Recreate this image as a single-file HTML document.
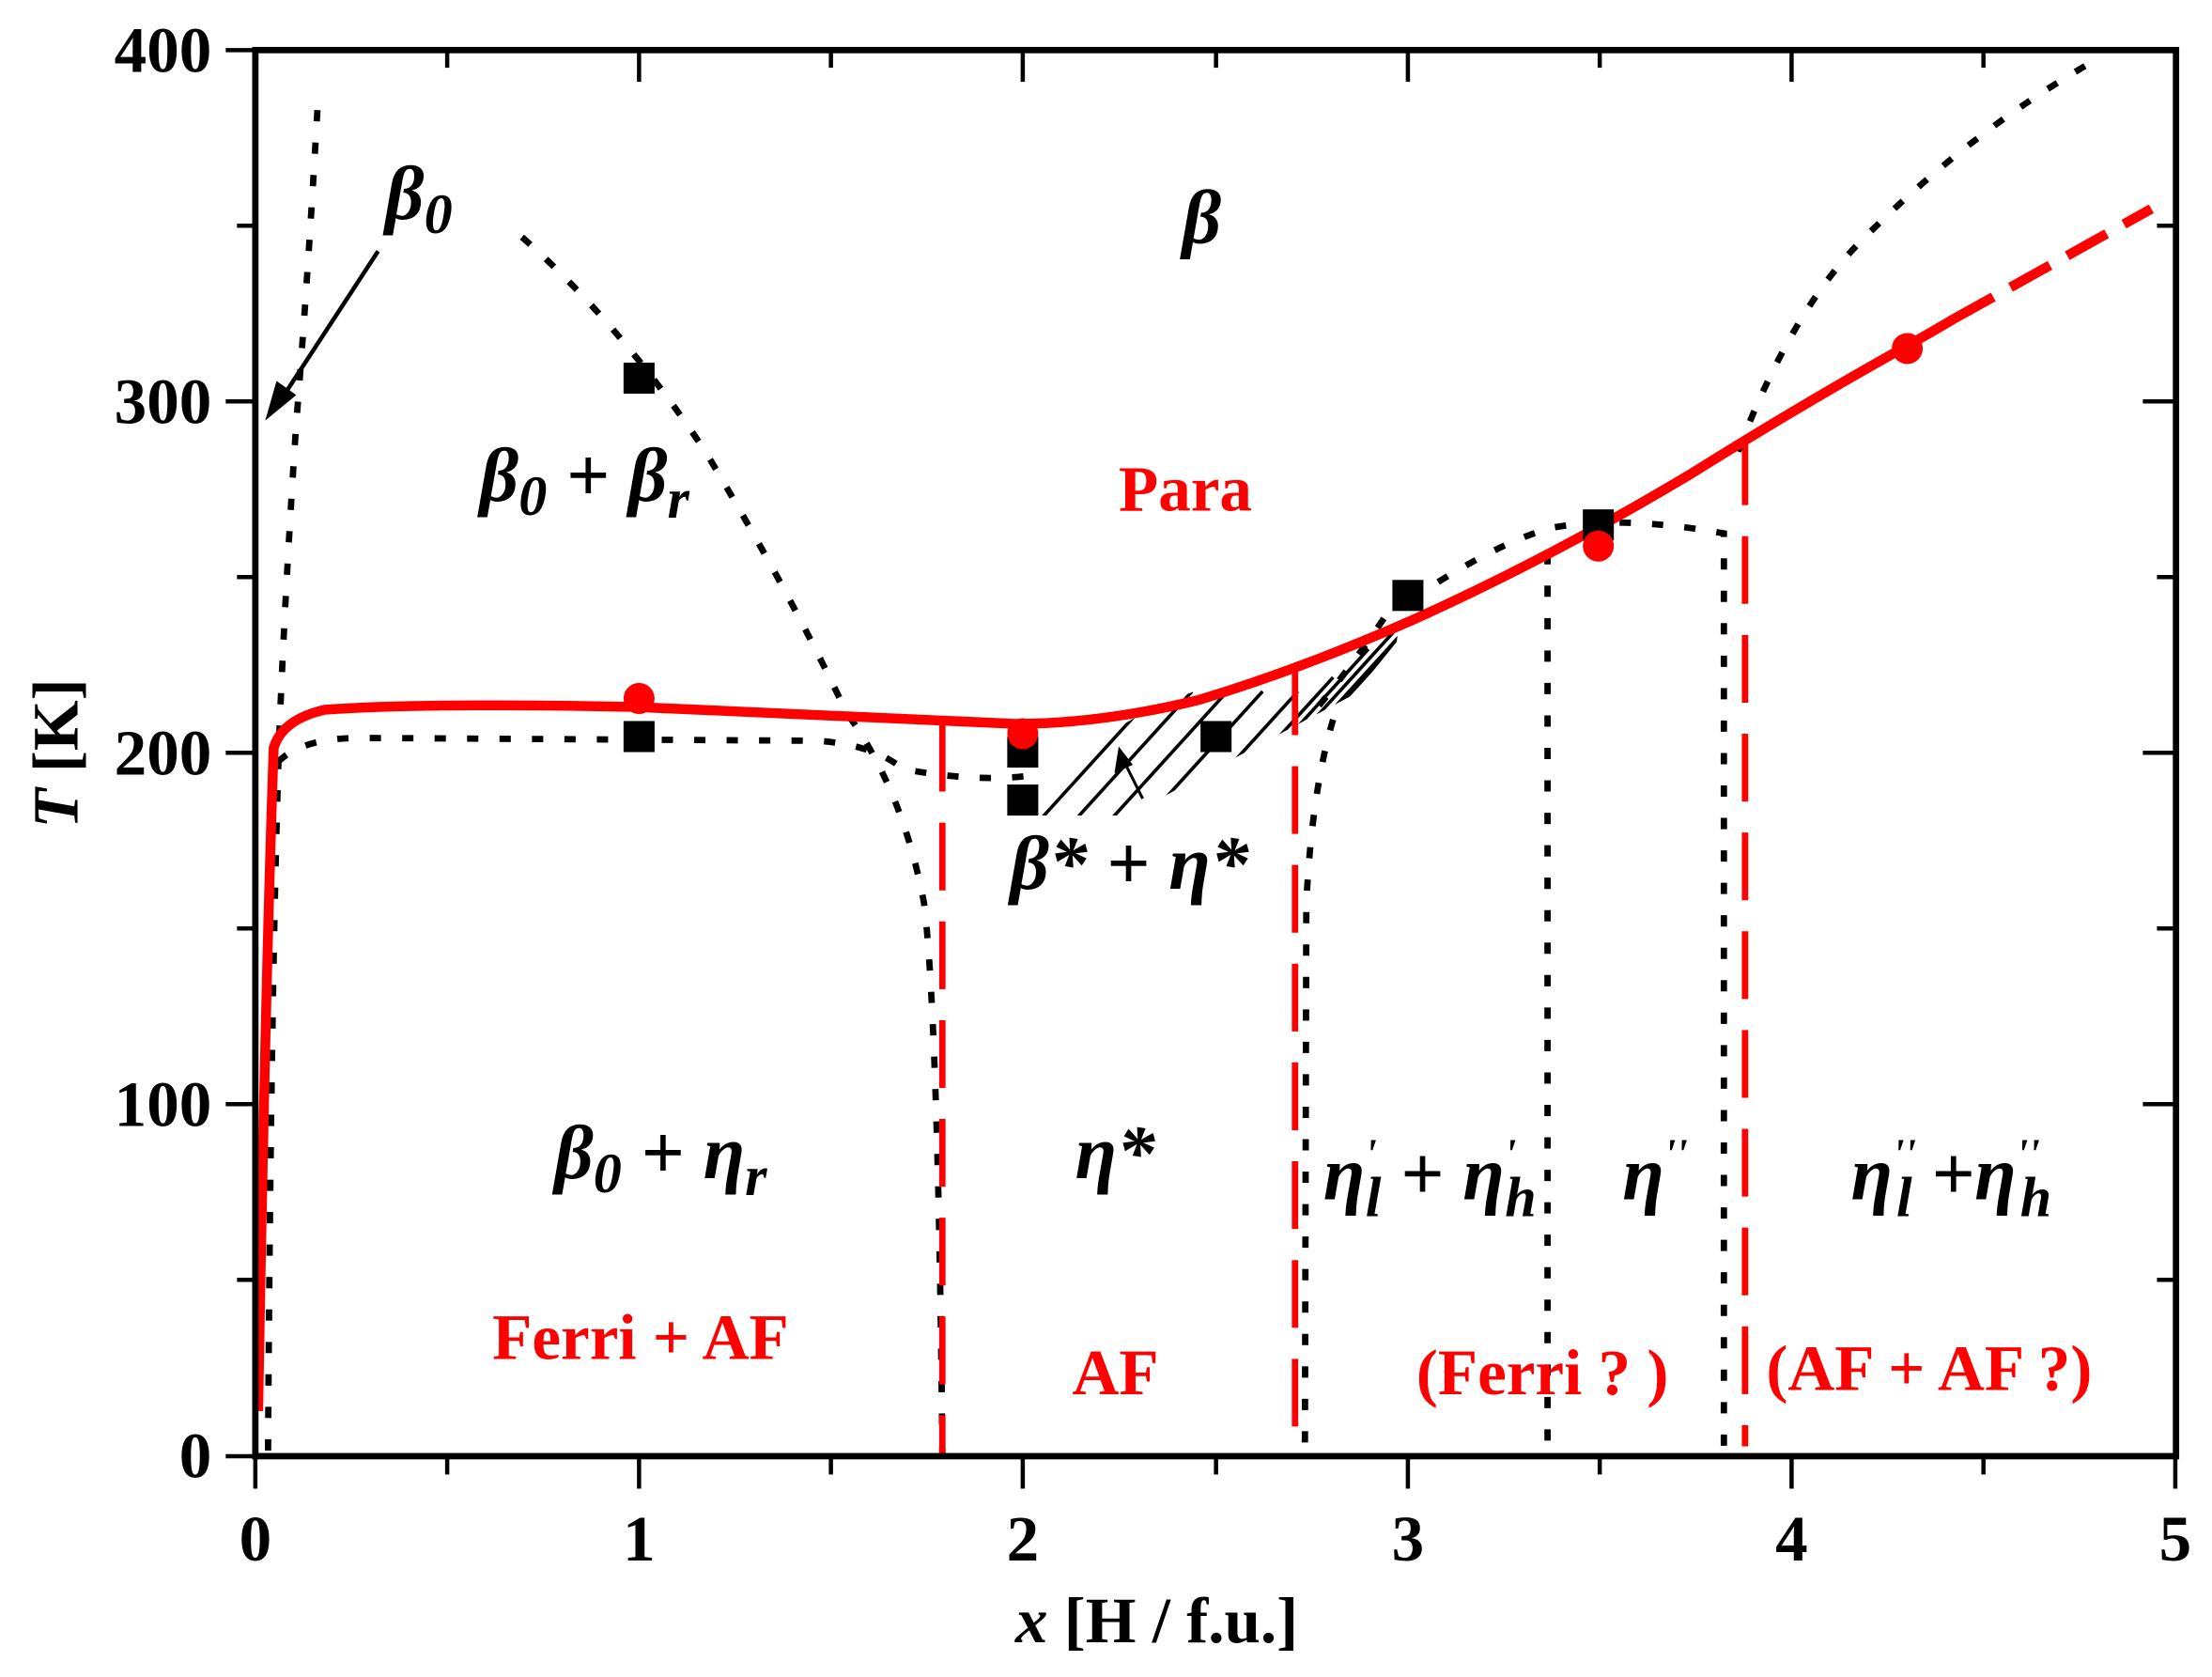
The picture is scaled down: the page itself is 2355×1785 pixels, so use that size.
<!DOCTYPE html>
<html><head><meta charset="utf-8"><style>html,body{margin:0;padding:0;background:#fff}svg{display:block}</style></head>
<body>
<svg width="2355" height="1785" viewBox="0 0 1568 1188.5" xmlns="http://www.w3.org/2000/svg" font-family="Liberation Serif, serif" font-weight="bold">
<defs>
<clipPath id="hc"><polygon points="738,578 800,578 870,540 960,492 990,455 995,420 960,440 900,470 820,500 740,545"/></clipPath>
</defs>
<g clip-path="url(#hc)" stroke="#000" stroke-width="2.4">
<line x1="720" y1="600" x2="820" y2="490"/><line x1="745" y1="600" x2="845" y2="490"/><line x1="770" y1="600" x2="870" y2="490"/>
<line x1="795" y1="600" x2="895" y2="490"/><line x1="820" y1="600" x2="920" y2="490"/><line x1="845" y1="590" x2="945" y2="480"/>
<line x1="870" y1="570" x2="970" y2="460"/><line x1="895" y1="550" x2="995" y2="440"/><line x1="920" y1="530" x2="1020" y2="420"/>
<line x1="945" y1="505" x2="1045" y2="395"/><line x1="700" y1="570" x2="800" y2="460"/><line x1="720" y1="560" x2="820" y2="450"/>
</g>
<g fill="none" stroke="#000" stroke-width="4.5" stroke-dasharray="8 15">
<path d="M225,78 Q218,200 210,300 Q202,420 198,520 Q192,700 190,1030"/>
<path d="M197,540 Q215,522 260,523 L580,525 Q620,528 640,545 Q700,556 740,548"/>
<path d="M370,168 Q440,230 500,320 Q560,420 600,505 Q640,560 655,640 Q665,720 668,1030"/>
<path d="M935,500 Q960,470 990,425 M945,510 Q930,560 926,640 L925,1030"/>
<path d="M1000,425 Q1060,385 1100,374 Q1150,365 1222,378 L1222,1030"/>
<path d="M1097,392 L1097,1030"/>
<path d="M1232,320 Q1270,220 1320,170 Q1400,90 1490,40"/>
</g>
<g stroke="#f00" stroke-width="4.5" stroke-dasharray="48 22">
<line x1="668" y1="513" x2="668" y2="1030"/>
<line x1="918" y1="473" x2="918" y2="1025"/>
<line x1="1237" y1="310" x2="1237" y2="1025"/>
</g>
<path d="M183,1000 Q188,700 194,530 Q200,510 230,503 Q300,498 450,501 Q600,508 720,513 Q780,513 850,496 Q920,475 1000,440 Q1100,395 1200,335 Q1280,285 1352,245 Q1370,235 1385,226" fill="none" stroke="#f00" stroke-width="7"/>
<path d="M1385,226 L1525,148" fill="none" stroke="#f00" stroke-width="7" stroke-dasharray="32 14"/>
<g fill="#000">
<rect x="442" y="257" width="22" height="22"/><rect x="442" y="511" width="22" height="22"/>
<rect x="714" y="522" width="22" height="22"/><rect x="714" y="556" width="22" height="22"/>
<rect x="851" y="511" width="22" height="22"/><rect x="987" y="411" width="22" height="22"/>
<rect x="1122" y="361" width="22" height="22"/>
</g>
<g fill="#f00">
<circle cx="453" cy="495" r="11"/><circle cx="725" cy="520" r="11"/><circle cx="1133" cy="387" r="11"/><circle cx="1352" cy="247" r="11"/>
</g>
<line x1="268" y1="178" x2="200" y2="282" stroke="#000" stroke-width="3"/>
<polygon points="188,298 196,270 210,280" fill="#000"/>
<line x1="810" y1="566" x2="797" y2="540" stroke="#000" stroke-width="2"/>
<polygon points="793,529 790,548 803,542" fill="#000"/>
<g stroke="#000" stroke-width="4.5" fill="none">
<rect x="181" y="35.5" width="1361.5" height="996.5"/>
</g>
<g stroke="#000" stroke-width="3">
<line x1="181" y1="1032" x2="181" y2="1055"/><line x1="453" y1="1032" x2="453" y2="1055"/><line x1="725" y1="1032" x2="725" y2="1055"/>
<line x1="998" y1="1032" x2="998" y2="1055"/><line x1="1270" y1="1032" x2="1270" y2="1055"/><line x1="1542" y1="1032" x2="1542" y2="1055"/>
<line x1="317" y1="1032" x2="317" y2="1045"/><line x1="589" y1="1032" x2="589" y2="1045"/><line x1="862" y1="1032" x2="862" y2="1045"/>
<line x1="1134" y1="1032" x2="1134" y2="1045"/><line x1="1406" y1="1032" x2="1406" y2="1045"/>
<line x1="453" y1="35" x2="453" y2="58"/><line x1="725" y1="35" x2="725" y2="58"/><line x1="998" y1="35" x2="998" y2="58"/><line x1="1270" y1="35" x2="1270" y2="58"/>
<line x1="317" y1="35" x2="317" y2="48"/><line x1="589" y1="35" x2="589" y2="48"/><line x1="862" y1="35" x2="862" y2="48"/><line x1="1134" y1="35" x2="1134" y2="48"/><line x1="1406" y1="35" x2="1406" y2="48"/>
<line x1="160" y1="35.5" x2="181" y2="35.5"/><line x1="160" y1="284.5" x2="181" y2="284.5"/><line x1="160" y1="533.5" x2="181" y2="533.5"/><line x1="160" y1="782.5" x2="181" y2="782.5"/><line x1="160" y1="1032" x2="181" y2="1032"/>
<line x1="168" y1="160" x2="181" y2="160"/><line x1="168" y1="409" x2="181" y2="409"/><line x1="168" y1="658" x2="181" y2="658"/><line x1="168" y1="907" x2="181" y2="907"/>
<line x1="1519" y1="284.5" x2="1542" y2="284.5"/><line x1="1519" y1="533.5" x2="1542" y2="533.5"/><line x1="1519" y1="782.5" x2="1542" y2="782.5"/>
<line x1="1529" y1="160" x2="1542" y2="160"/><line x1="1529" y1="409" x2="1542" y2="409"/><line x1="1529" y1="658" x2="1542" y2="658"/><line x1="1529" y1="907" x2="1542" y2="907"/>
</g>
<g font-size="46" text-anchor="end">
<text x="150" y="51">400</text><text x="150" y="300">300</text><text x="150" y="549">200</text><text x="150" y="798">100</text><text x="150" y="1047">0</text>
</g>
<g font-size="46" text-anchor="middle">
<text x="181" y="1106">0</text><text x="453" y="1106">1</text><text x="725" y="1106">2</text><text x="998" y="1106">3</text><text x="1270" y="1106">4</text><text x="1542" y="1106">5</text>
</g>
<text x="820" y="1164" font-size="46" text-anchor="middle"><tspan font-style="italic">x</tspan> [H / f.u.]</text>
<text transform="translate(55,534) rotate(-90)" font-size="46" text-anchor="middle"><tspan font-style="italic">T</tspan> [K]</text>
<g font-style="italic" font-size="54">
<text x="273" y="155">β<tspan font-size="40" dy="10">0</tspan></text>
<text x="838" y="172">β</text>
<text x="340" y="355">β<tspan font-size="40" dy="10">0</tspan><tspan dy="-10"> + β</tspan><tspan font-size="40" dy="12">r</tspan></text>
<text x="716" y="630">β* + η*</text>
<text x="393" y="835">β<tspan font-size="40" dy="10">0</tspan><tspan dy="-10"> + η</tspan><tspan font-size="40" dy="12">r</tspan></text>
<text x="762" y="835">η*</text>
<text x="938" y="850">η<tspan font-size="30" dy="-22">'</tspan><tspan font-size="40" dx="-8" dy="34">l</tspan><tspan dy="-12"> + η</tspan><tspan font-size="30" dy="-22">'</tspan><tspan font-size="40" dx="-8" dy="34">h</tspan></text>
<text x="1150" y="850">η<tspan font-size="30" dy="-22">''</tspan></text>
<text x="1312" y="850">η<tspan font-size="30" dy="-22">''</tspan><tspan font-size="40" dx="-14" dy="34">l</tspan><tspan dy="-12"> +η</tspan><tspan font-size="30" dy="-22">''</tspan><tspan font-size="40" dx="-14" dy="34">h</tspan></text>
</g>
<g fill="#f00" font-size="46">
<text x="793" y="362">Para</text>
<text x="349" y="963">Ferri + AF</text>
<text x="760" y="988">AF</text>
<text x="1004" y="988">(Ferri ? )</text>
<text x="1252" y="985">(AF + AF ?)</text>
</g>
</svg>
</body></html>
